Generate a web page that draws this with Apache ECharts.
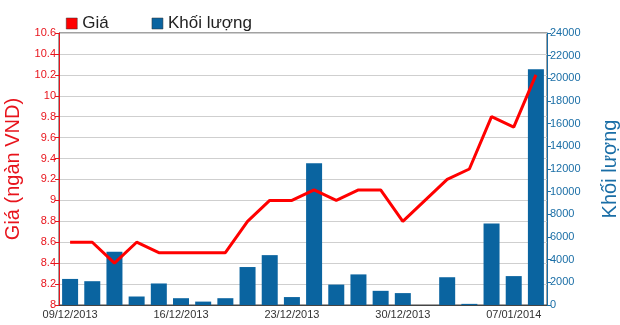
<!DOCTYPE html>
<html><head><meta charset="utf-8">
<script src="https://cdn.jsdelivr.net/npm/echarts@6/dist/echarts.min.js"></script>
<style>html,body{margin:0;padding:0;background:#fff}#c{width:620px;height:325px}</style>
</head><body><div id="c"></div>
<script>
var categories = ['09/12/2013','10/12/2013','11/12/2013','12/12/2013','13/12/2013',
  '16/12/2013','17/12/2013','18/12/2013','19/12/2013','20/12/2013',
  '23/12/2013','24/12/2013','25/12/2013','26/12/2013','27/12/2013',
  '30/12/2013','31/12/2013','02/01/2014','03/01/2014','06/01/2014',
  '07/01/2014','08/01/2014'];
var price = [8.6,8.6,8.4,8.6,8.5, 8.5,8.5,8.5,8.8,9.0, 9.0,9.1,9.0,9.1,9.1, 8.8,9.0,9.2,9.3,9.8, 9.7,10.2];
var volume = [2300,2100,4700,750,1900, 600,300,600,3350,4400, 700,12500,1800,2700,1250, 1050,0,2450,100,7200, 2550,20800];
var FONT = '"Liberation Sans", Arial, sans-serif';
var RED = '#e8141c', BLUE = '#1a6ea6';
var chart = echarts.init(document.getElementById('c'));
chart.setOption({
  animation: false,
  textStyle: {fontFamily: FONT},
  legend: {
    left: 66, top: 15, padding: 0, itemWidth: 11, itemHeight: 11, itemGap: 43,
    textStyle: {fontSize: 17, color: '#222', fontFamily: FONT},
    data: [{name: 'Giá', icon: 'rect', itemStyle: {color: '#f00', borderColor: '#333', borderWidth: 0.5}},
           {name: 'Khối lượng', icon: 'rect', itemStyle: {color: '#0a64a0', borderColor: '#333', borderWidth: 0.5}}]
  },
  grid: {left: 59, right: 73, top: 33, bottom: 20, show: true, borderColor: '#444', borderWidth: 1,
         containLabel: false, outerBoundsMode: 'none'},
  xAxis: {
    type: 'category', data: categories, boundaryGap: true,
    axisLine: {lineStyle: {color: '#444'}},
    axisTick: {interval: 4, alignWithLabel: true, length: 4, lineStyle: {color: '#444'}},
    axisLabel: {interval: 4, fontSize: 11, color: '#333', margin: 4, fontFamily: FONT}
  },
  yAxis: [{
    type: 'value', min: 8, max: 10.6, interval: 0.2, position: 'left',
    name: 'Giá (ngàn VND)', nameLocation: 'middle', nameGap: 34, nameRotate: 90,
    nameTextStyle: {color: RED, fontSize: 20, fontFamily: FONT},
    axisLine: {show: true, lineStyle: {color: RED}},
    axisTick: {show: true, length: 4, lineStyle: {color: RED}},
    axisLabel: {color: RED, fontSize: 11, margin: 3, fontFamily: FONT},
    splitLine: {show: true, lineStyle: {color: '#cfcfcf'}}
  }, {
    type: 'value', min: 0, max: 24000, interval: 2000, position: 'right',
    name: 'Khối lượng', nameLocation: 'middle', nameGap: 53, nameRotate: 90,
    nameTextStyle: {color: BLUE, fontSize: 20, fontFamily: FONT},
    axisLine: {show: true, lineStyle: {color: BLUE}},
    axisTick: {show: true, length: 4, lineStyle: {color: BLUE}},
    axisLabel: {color: BLUE, fontSize: 11, margin: 3, fontFamily: FONT,
                formatter: function (v) { return String(v); }},
    splitLine: {show: false}
  }],
  series: [{
    name: 'Khối lượng', type: 'bar', yAxisIndex: 1, data: volume, barWidth: 16,
    itemStyle: {color: '#0a64a0'}, z: 2
  }, {
    name: 'Giá', type: 'line', yAxisIndex: 0, data: price, showSymbol: false, symbol: 'none',
    lineStyle: {color: '#f00', width: 3}, itemStyle: {color: '#f00'}, z: 3
  }]
});
</script></body></html>
